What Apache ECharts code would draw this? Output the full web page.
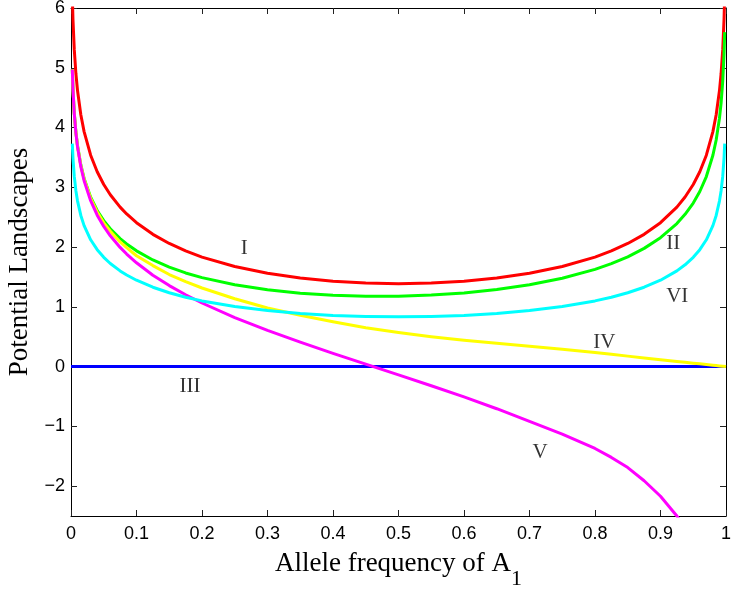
<!DOCTYPE html>
<html>
<head>
<meta charset="utf-8">
<script src="https://cdn.jsdelivr.net/npm/echarts@6/dist/echarts.min.js"></script>
<style>
html,body{margin:0;padding:0;background:#fff;}
#chart{width:732px;height:590px;}
</style>
</head>
<body>
<div id="chart"></div>
<script>
// allele frequency samples
const xs = [0.002,0.003,0.005,0.0075,0.01,0.015,0.02,0.03,0.04,0.05,
            0.06,0.075,0.085,0.1,0.125,0.15,0.175,0.2,
            0.25,0.3,0.35,0.4,0.45,0.5,0.55,0.6,0.65,0.7,0.75,0.8,
            0.825,0.85,0.875,0.9,0.925,0.9375,0.95,
            0.96,0.97,0.98,0.985,0.99,0.9925,0.995,0.997,0.998,1];
// curve I (red)
const curveI = [6.217,5.812,5.303,4.900,4.615,4.215,3.932,3.537,3.260,3.047,
                2.875,2.668,2.554,2.408,2.213,2.060,1.935,1.832,
                1.674,1.561,1.481,1.427,1.397,1.386,1.397,1.427,1.481,1.561,1.674,1.832,
                1.935,2.060,2.213,2.408,2.668,2.838,3.047,
                3.260,3.537,3.932,4.215,4.615,4.900,5.303,5.812,6.217,null];
// curve II (green)
const curveII = [4.974,4.650,4.243,3.921,3.693,3.374,3.148,2.833,2.612,2.443,
                 2.306,2.142,2.052,1.937,1.784,1.665,1.567,1.488,
                 1.368,1.284,1.228,1.193,1.177,1.178,1.197,1.233,1.290,1.370,1.477,1.626,
                 1.723,1.837,1.978,2.157,2.393,2.548,2.737,
                 2.930,3.180,3.537,3.792,4.153,4.410,4.772,5.230,5.596,null];
// curve III (blue)
const curveIIIx = [0,1];
const curveIII = [0,0];
// curve IV (yellow)
const curveIV = [4.973,4.648,4.240,3.916,3.687,3.364,3.136,2.815,2.587,2.405,
                 2.265,2.085,1.992,1.855,1.690,1.540,1.420,1.315,
                 1.135,0.980,0.860,0.750,0.650,0.570,0.500,0.440,0.390,0.340,0.290,0.235,
                 0.205,0.175,0.145,0.115,0.085,0.071,0.057,
                 0.046,0.034,0.023,0.017,0.011,0.008,0.005,0.003,0.002,0];
// curve V (magenta)
const curveV = [4.970,4.644,4.233,3.907,3.674,3.345,3.110,2.776,2.534,2.346,
                2.188,1.994,1.883,1.737,1.529,1.355,1.202,1.064,
                0.821,0.606,0.409,0.222,0.041,-0.139,-0.321,-0.507,-0.705,-0.918,-1.13,-1.37,
                -1.52,-1.69,-1.91,-2.17,-2.50,-2.70,-2.95,
                null,null,null,null,null,null,null,null,null,null];
// curve VI (cyan)
const curveVI = [3.730,3.487,3.182,2.940,2.769,2.529,2.359,2.122,1.956,1.828,
                 1.725,1.601,1.532,1.445,1.328,1.236,1.161,1.099,
                 1.004,0.937,0.889,0.856,0.838,0.832,0.838,0.856,0.889,0.937,1.004,1.099,
                 1.161,1.236,1.328,1.445,1.601,1.703,1.828,
                 1.956,2.122,2.359,2.529,2.769,2.940,3.182,3.487,3.730,null];
// tick values
const yTicks = [-2,-1,0,1,2,3,4,5,6];
// curve annotations
const annNames = ['I','II','III','IV','V','VI'];
const annX = [0.2646,0.9195,0.1817,0.8142,0.716,0.9256];
const annY = [1.98,2.06,-0.34,0.41,-1.44,1.17];

function pair(xv, yv){ return xv.map((x,i)=>[x, yv[i]]); }

const serif = '"Liberation Serif","Times New Roman",serif';
const sans = '"Liberation Sans",Arial,sans-serif';

const chart = echarts.init(document.getElementById('chart'), null, {renderer:'canvas'});

function lineSeries(name, data, color){
  return {name, type:'line', data, showSymbol:false, symbol:'none',
    smooth:false,
    lineStyle:{color, width:3, join:'round', cap:'butt'}, itemStyle:{color}, animation:false, silent:true,
    connectNulls:false, clip:true};
}

const axLine = {show:true, onZero:false, lineStyle:{color:'#000', width:1}};
const tick = {show:true, inside:true, length:6, lineStyle:{color:'#222'}};

chart.setOption({
  animation:false,
  backgroundColor:'#fff',
  grid:{left:71, right:6, top:8, bottom:74, show:false, outerBoundsMode:'none'},
  xAxis:[{
    type:'value', min:0, max:1, interval:0.1, position:'bottom',
    name:'{t|Allele frequency of A}{s|1}', nameLocation:'middle', nameGap:22,
    nameTextStyle:{rich:{
      t:{fontFamily:serif, fontSize:27, color:'#000', lineHeight:30},
      s:{fontFamily:serif, fontSize:22, color:'#000', lineHeight:52, verticalAlign:'bottom'}
    }},
    axisLine:axLine,
    axisTick:tick,
    axisLabel:{show:true, margin:9, fontFamily:sans, fontSize:18, color:'#000'},
    splitLine:{show:false}
  },{
    type:'value', min:0, max:1, interval:0.1, position:'top',
    axisLine:axLine, axisTick:tick,
    axisLabel:{show:false}, splitLine:{show:false}
  }],
  yAxis:[{
    type:'value', min:-2.5, max:6, position:'left',
    name:'Potential Landscapes', nameLocation:'middle', nameGap:28,
    nameTextStyle:{fontFamily:serif, fontSize:27, color:'#000'},
    axisLine:axLine,
    axisTick:Object.assign({customValues:yTicks}, tick),
    axisLabel:{show:true, margin:6, fontFamily:sans, fontSize:18, color:'#000', customValues:yTicks,
      formatter:v => v<0 ? '\u2212'+Math.abs(v) : String(v)},
    splitLine:{show:false}
  },{
    type:'value', min:-2.5, max:6, position:'right',
    axisLine:axLine,
    axisTick:Object.assign({customValues:yTicks}, tick),
    axisLabel:{show:false}, splitLine:{show:false}
  }],
  series:[
    lineSeries('I', pair(xs, curveI), '#ff0000'),
    lineSeries('II', pair(xs, curveII), '#00ff00'),
    lineSeries('III', pair(curveIIIx, curveIII), '#0000ff'),
    lineSeries('IV', pair(xs, curveIV), '#ffff00'),
    lineSeries('V', pair(xs, curveV), '#ff00ff'),
    lineSeries('VI', pair(xs, curveVI), '#00ffff'),
    {type:'scatter', symbolSize:0, silent:true, z:10,
     data: annNames.map((n,i)=>({name:n, value:[annX[i], annY[i]]})),
     label:{show:true, position:'inside', formatter:p=>p.name, fontFamily:serif, fontSize:21, color:'#000'}}
  ]
});
</script>
</body>
</html>
